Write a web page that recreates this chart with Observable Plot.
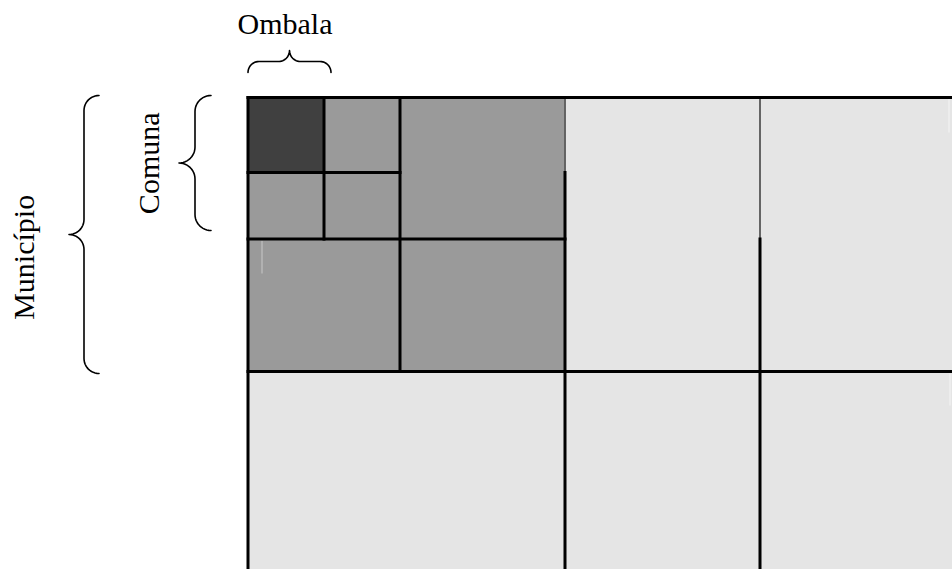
<!DOCTYPE html>
<html>
<head>
<meta charset="utf-8">
<script src="https://cdn.jsdelivr.net/npm/d3@7"></script>
<script src="https://cdn.jsdelivr.net/npm/@observablehq/plot@0.6"></script>
<style>
  html, body { margin: 0; padding: 0; background: #fff; }
  #chart svg { display: block; overflow: visible; }
</style>
</head>
<body>
<div id="chart"></div>
<script>
// ---- Data (diagram units; origin = top-left corner of the grid) ----
// Cells of the nested grid: extents and hierarchy level
const cellX1 = [0, 76, 0, 76, 152, 0, 152, 317, 512, 0, 317, 512];
const cellX2 = [76, 152, 76, 152, 317, 152, 317, 512, 705, 317, 512, 705];
const cellY1 = [0, 0, 75, 75, 0, 141.6, 141.6, 0, 0, 274, 274, 274];
const cellY2 = [75, 75, 141.6, 141.6, 141.6, 274, 274, 274, 274, 472, 472, 472];
const cellLevel = ["selected", "ombala", "ombala", "ombala", "comuna", "comuna", "comuna",
                   "municipio", "municipio", "municipio", "municipio", "municipio"];

// Boundary segments of the grid and their kind
const segX1 = [0, 0, 76, 0, 152, 0, 317, 512, 0, 317, 512, 14, 701, 702];
const segY1 = [0, 0, 0, 75, 0, 141.6, 75, 141.6, 274, 0, 0, 143.3, 0, 276];
const segX2 = [705, 0, 76, 152, 152, 317, 317, 512, 705, 317, 512, 14, 701, 702];
const segY2 = [0, 472, 141.6, 75, 274, 141.6, 472, 472, 274, 75, 141.6, 176, 35, 308];
const segKind = ["border", "border", "border", "border", "border", "border", "border", "border", "border",
                 "seam", "seam", "faint", "ghost", "ghost"];

// Braces: label, orientation, span start/end, base (ends) and tip position
const braceLabel = ["Ombala", "Comuna", "Município"];
const braceAxis = ["x", "y", "y"];
const braceFrom = [0, -2, -2];
const braceTo = [83, 133, 276];
const braceBase = [-25, -37, -149];
const braceTip = [-47, -69, -179];
// Label anchor: position along the span, and baseline position across
const labelAlong = [37, 65.8, 159.8];
const labelAcross = [-64, -89, -214];

// ---- Build tables ----
const cells = cellLevel.map((lv, i) => ({x1: cellX1[i], x2: cellX2[i], y1: cellY1[i], y2: cellY2[i], level: lv}));
const segs = segKind.map((k, i) => ({x1: segX1[i], y1: segY1[i], x2: segX2[i], y2: segY2[i], kind: k}));

// Curly-brace geometry (shape only) from the brace span data
function bracePoints(i) {
  const a = braceFrom[i], b = braceTo[i], base = braceBase[i], tip = braceTip[i];
  const mid = (base + tip) / 2;
  const c = (a + b) / 2;
  const r = Math.abs(tip - base) / 2;
  const s = Math.sign(tip - base); // direction from base to tip
  const pts = [];
  const n = 12;
  // left end curl: from (a, base) to (a + r, mid)
  for (let k = 0; k <= n; k++) {
    const t = (k / n) * Math.PI / 2;
    pts.push([a + r - r * Math.cos(t), base + s * r * Math.sin(t)]);
  }
  // curl into tip: from (c - r, mid) to (c, tip)
  for (let k = 0; k <= n; k++) {
    const t = (k / n) * Math.PI / 2;
    pts.push([c - r + r * Math.sin(t), mid + s * (r - r * Math.cos(t))]);
  }
  // from tip to (c + r, mid)
  for (let k = 0; k <= n; k++) {
    const t = (k / n) * Math.PI / 2;
    pts.push([c + r - r * Math.cos(t), tip - s * r * Math.sin(t) + s * 0]);
  }
  // fix: second half mirror properly
  pts.splice(pts.length - (n + 1), n + 1);
  for (let k = 0; k <= n; k++) {
    const t = (k / n) * Math.PI / 2;
    pts.push([c + r - r * Math.cos(t), mid + s * (r - r * Math.sin(t))]);
  }
  // right end curl: from (b - r, mid) to (b, base)
  for (let k = 0; k <= n; k++) {
    const t = (k / n) * Math.PI / 2;
    pts.push([b - r + r * Math.sin(t), mid - s * r * (1 - Math.cos(t))]);
  }
  return pts.map(([along, across]) => braceAxis[i] === "x"
    ? {x: along, y: across, brace: braceLabel[i]}
    : {x: across, y: along, brace: braceLabel[i]});
}
const braces = braceLabel.flatMap((_, i) => bracePoints(i));
const labels = braceLabel.map((t, i) => braceAxis[i] === "x"
  ? {x: labelAlong[i], y: labelAcross[i], text: t, rotate: 0}
  : {x: labelAcross[i], y: labelAlong[i], text: t, rotate: -90});

const chart = Plot.plot({
  width: 952,
  height: 569,
  marginLeft: 247.5,
  marginTop: 97,
  marginRight: 0,
  marginBottom: 0,
  x: {domain: [0, 704.5], axis: null},
  y: {domain: [0, 472], reverse: true, axis: null},
  color: {domain: ["selected", "ombala", "comuna", "municipio"], range: ["#404040", "#9a9a9a", "#9a9a9a", "#e5e5e5"]},
  style: {fontFamily: "'Liberation Serif', 'Times New Roman', serif", background: "#fff"},
  marks: [
    Plot.rect(cells, {x1: "x1", x2: "x2", y1: "y1", y2: "y2", fill: "level"}),
    Plot.link(segs.filter(d => d.kind === "ghost"), {x1: "x1", y1: "y1", x2: "x2", y2: "y2", stroke: "#efefef", strokeWidth: 1.5}),
    Plot.link(segs.filter(d => d.kind === "faint"), {x1: "x1", y1: "y1", x2: "x2", y2: "y2", stroke: "#b8b8b8", strokeWidth: 1.5}),
    Plot.link(segs.filter(d => d.kind === "seam"), {x1: "x1", y1: "y1", x2: "x2", y2: "y2", stroke: "#444", strokeWidth: 1.6}),
    Plot.link(segs.filter(d => d.kind === "border"), {x1: "x1", y1: "y1", x2: "x2", y2: "y2", stroke: "#000", strokeWidth: 3, strokeLinecap: "square"}),
    Plot.line(braces, {x: "x", y: "y", z: "brace", stroke: "#000", strokeWidth: 1.6, curve: "linear"}),
    Plot.text(labels, {x: "x", y: "y", text: "text", rotate: "rotate", fontSize: 30, lineAnchor: "bottom", textAnchor: "middle", fill: "#000"})
  ]
});
document.getElementById("chart").appendChild(chart);
</script>
</body>
</html>
